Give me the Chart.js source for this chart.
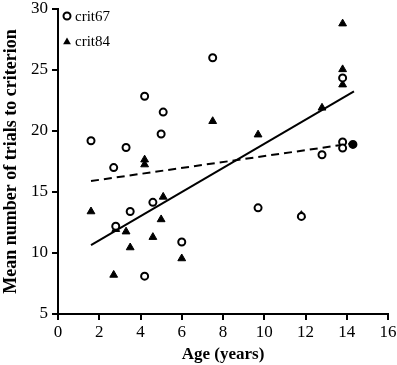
<!DOCTYPE html>
<html><head><meta charset="utf-8">
<script src="https://cdn.jsdelivr.net/npm/chart.js@4/dist/chart.umd.min.js"></script>
<style>html,body{margin:0;padding:0;background:#fff}#wrap{width:397px;height:365px}</style>
</head><body><div id="wrap"><canvas id="c" width="397" height="365"></canvas></div>
<script>
const xTicks = [0, 2, 4, 6, 8, 10, 12, 14, 16];
const yTicks = [5, 10, 15, 20, 25, 30];
const crit67Age = [1.6, 2.7, 2.8, 3.3, 3.5, 4.2, 4.2, 4.6, 5.0, 5.1, 6.0, 7.5, 9.7, 11.8, 12.8, 13.8, 13.8, 13.8, 14.3];
const crit67Trials = [19.2, 17.0, 12.2, 18.65, 13.4, 22.85, 8.1, 14.15, 19.75, 21.55, 10.9, 26.0, 13.7, 13.0, 18.05, 24.35, 19.1, 18.6, 18.9];
const crit84Age = [1.6, 2.7, 2.8, 3.3, 3.5, 4.2, 4.2, 4.6, 5.0, 5.1, 6.0, 7.5, 9.7, 11.8, 12.8, 13.8, 13.8, 13.8];
const crit84Trials = [13.4, 8.2, 11.95, 11.75, 10.45, 17.65, 17.25, 11.3, 12.75, 14.6, 9.55, 20.8, 19.7, 13.1, 21.9, 28.8, 25.05, 23.8];
const trendAge = [1.6, 14.35];
const trend84 = [10.65, 23.25];
const trend67 = [15.9, 19.0];
const labels = ['crit67', 'crit84'];

const pts = (xs, ys) => xs.map((x, i) => ({x: x, y: ys[i]}));
const FONT = "'Liberation Serif', 'Times New Roman', serif";

const legendPlugin = {
  id: 'insideLegend',
  afterDraw(chart) {
    const ctx = chart.ctx;
    ctx.save();
    ctx.font = "15px " + FONT;
    ctx.fillStyle = '#000';
    ctx.textBaseline = 'middle';
    ctx.textAlign = 'left';
    ctx.beginPath();
    ctx.arc(67, 16, 3.5, 0, Math.PI * 2);
    ctx.fillStyle = '#fff'; ctx.fill();
    ctx.lineWidth = 2; ctx.strokeStyle = '#000'; ctx.stroke();
    ctx.fillStyle = '#000';
    ctx.fillText(labels[0], 75, 17);
    const r = 4.5, cx = 67, cy = 42;
    ctx.beginPath();
    ctx.moveTo(cx, cy - r);
    ctx.lineTo(cx + r * Math.sqrt(3) / 2, cy + r / 2);
    ctx.lineTo(cx - r * Math.sqrt(3) / 2, cy + r / 2);
    ctx.closePath(); ctx.fill();
    ctx.fillText(labels[1], 75, 42);
    ctx.restore();
  }
};

new Chart(document.getElementById('c'), {
  type: 'scatter',
  data: {
    datasets: [
      {label: labels[0], data: pts(crit67Age, crit67Trials), pointStyle: 'circle', pointRadius: 3.5,
       pointBorderWidth: 2, borderColor: '#000',
       pointBackgroundColor: crit67Age.map((a, i) => i === crit67Age.length - 1 ? '#000' : '#fff'), order: 1},
      {label: labels[1], data: pts(crit84Age, crit84Trials), pointStyle: 'triangle', pointRadius: 4.5,
       pointBorderWidth: 1, borderColor: '#000', backgroundColor: '#000', order: 1},
      {label: 'fit84', data: pts(trendAge, trend84), showLine: true, pointRadius: 0, borderColor: '#000',
       borderWidth: 2, order: 2},
      {label: 'fit67', data: pts(trendAge, trend67), showLine: true, pointRadius: 0, borderColor: '#000',
       borderWidth: 2, borderDash: [8, 5], order: 2}
    ]
  },
  options: {
    responsive: false,
    animation: false,
    devicePixelRatio: 1,
    layout: {padding: {top: 9, right: 9, left: 0, bottom: 0}},
    plugins: {legend: {display: false}, tooltip: {enabled: false}},
    scales: {
      x: {
        type: 'linear', min: 0, max: 16,
        afterBuildTicks: s => { s.ticks = xTicks.map(v => ({value: v})); },
        afterFit: s => { s.height = 51; s.paddingLeft = 0; s.paddingRight = 0; },
        grid: {display: true, drawOnChartArea: false, drawTicks: true, tickLength: 6, color: '#000', lineWidth: 2},
        border: {display: true, color: '#000', width: 2},
        ticks: {color: '#000', font: {family: FONT, size: 17}, padding: 2, maxRotation: 0},
        title: {display: true, text: 'Age (years)', color: '#000', font: {family: FONT, size: 17, weight: 'bold'}, padding: {top: 0, bottom: 0}}
      },
      y: {
        type: 'linear', min: 5, max: 30,
        afterBuildTicks: s => { s.ticks = yTicks.map(v => ({value: v})); },
        afterFit: s => { s.width = 58; s.paddingTop = 0; s.paddingBottom = 0; },
        grid: {display: true, drawOnChartArea: false, drawTicks: true, tickLength: 6, color: '#000', lineWidth: 2},
        border: {display: true, color: '#000', width: 2},
        ticks: {color: '#000', font: {family: FONT, size: 17}, padding: 4},
        title: {display: true, text: 'Mean number of trials to criterion', color: '#000', font: {family: FONT, size: 18, weight: 'bold'}, padding: {top: 1, bottom: 0}}
      }
    }
  },
  plugins: [legendPlugin]
});
</script>
</body></html>
